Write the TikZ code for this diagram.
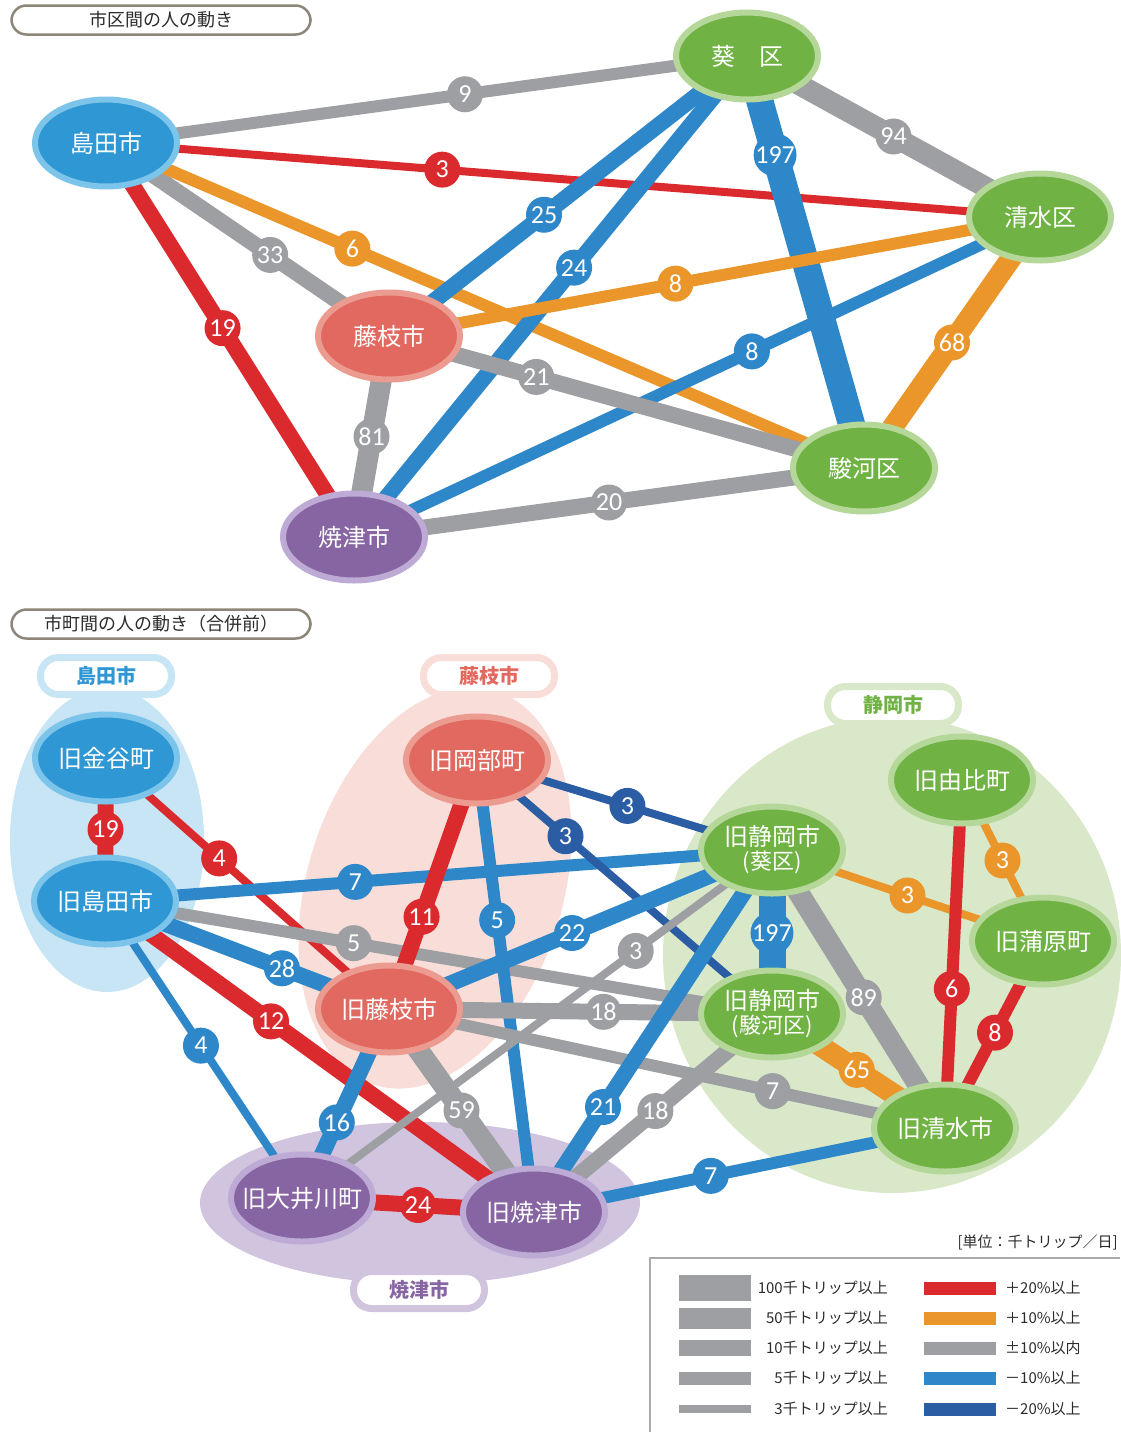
\documentclass[tikz,border=0pt]{standalone}
\usepackage{fontspec}
\setmainfont{Noto Sans CJK JP}
\newfontfamily\numfont{Carlito}
\usetikzlibrary{shapes.geometric, calc}

\definecolor{cred}{HTML}{DB2A2E}
\definecolor{corange}{HTML}{EA962B}
\definecolor{cgray}{HTML}{9D9FA2}
\definecolor{cblue}{HTML}{2E87C8}
\definecolor{cdblue}{HTML}{2A5DA4}
\definecolor{nblue}{HTML}{2F97D4}
\definecolor{nblueb}{HTML}{7CC4EA}
\definecolor{ngreen}{HTML}{70B344}
\definecolor{ngreenb}{HTML}{B5D89A}
\definecolor{nred}{HTML}{E16960}
\definecolor{nredb}{HTML}{EC9B91}
\definecolor{npurp}{HTML}{8765A2}
\definecolor{npurpb}{HTML}{BEABD5}
\definecolor{gblue}{HTML}{C7E5F5}
\definecolor{gpink}{HTML}{F8DDD8}
\definecolor{ggreen}{HTML}{D9E8C8}
\definecolor{gpurp}{HTML}{D0C4DF}
\definecolor{frame}{HTML}{8C857A}
\definecolor{legline}{HTML}{AAAAAA}
\definecolor{ink}{HTML}{2B2B2B}

\pgfdeclarelayer{groups}
\pgfdeclarelayer{links}
\pgfsetlayers{groups,links,main}

\tikzstyle{town} = [ellipse, minimum width=142pt, minimum height=87pt, inner sep=0pt, line width=6pt, text=white, align=center, font=\fontsize{24}{27}\selectfont]
\tikzstyle{shimadacity} = [town, fill=nblue, draw=nblueb]
\tikzstyle{fujiedacity} = [town, fill=nred, draw=nredb]
\tikzstyle{shizuokacity} = [town, fill=ngreen, draw=ngreenb]
\tikzstyle{yaizucity} = [town, fill=npurp, draw=npurpb]
\tikzstyle{titlebox} = [rectangle, rounded corners=15pt, draw=frame, line width=2.5pt, minimum width=299pt, minimum height=29pt, inner sep=0pt, text=ink, font=\fontsize{18}{18}\selectfont]
\tikzstyle{grouptag} = [rectangle, rounded corners=18pt, fill=white, line width=7pt, minimum width=131pt, minimum height=37pt, inner sep=0pt, font=\bfseries\fontsize{20}{20}\selectfont]
\tikzstyle{num} = [circle, minimum size=36pt, inner sep=0pt, text=white, font=\numfont\fontsize{26}{26}\selectfont]
\tikzstyle{link} = [line cap=butt]
\tikzstyle{w3} = [link, line width=8pt]
\tikzstyle{w5} = [link, line width=12pt]
\tikzstyle{w10} = [link, line width=16pt]
\tikzstyle{w50} = [link, line width=21pt]
\tikzstyle{w100} = [link, line width=27pt]
\tikzstyle{legtext} = [inner sep=0pt, text=ink, font=\fontsize{15}{15}\selectfont]

\begin{document}
\begin{tikzpicture}[x=1pt, y=-1pt]
\useasboundingbox (0,0) rectangle (1120,1432);

\node[titlebox] (title1) at (161,20) {市区間の人の動き};
\node[titlebox] (title2) at (161,624) {市町間の人の動き（合併前）};

% upper map: cities and wards
\node[shimadacity] (shimada) at (106,143) {島田市};
\node[shizuokacity] (aoi) at (747,56) {葵　区};
\node[shizuokacity] (shimizu) at (1040,217) {清水区};
\node[fujiedacity] (fujieda) at (389,336) {藤枝市};
\node[shizuokacity] (suruga) at (864,468) {駿河区};
\node[yaizucity] (yaizu) at (354,537) {焼津市};

\begin{pgfonlayer}{links}
\draw[w5, cgray] (shimada.center) -- (aoi.center);
\draw[w3, cred] (shimada.center) -- (shimizu.center);
\draw[w10, cgray] (shimada.center) -- (fujieda.center);
\draw[w5, corange] (shimada.center) -- (suruga.center);
\draw[w10, cred] (shimada.center) -- (yaizu.center);
\draw[w10, cblue] (aoi.center) -- (fujieda.center);
\draw[w10, cblue] (aoi.center) -- (yaizu.center);
\draw[w100, cblue] (aoi.center) -- (suruga.center);
\draw[w50, cgray] (aoi.center) -- (shimizu.center);
\draw[w5, corange] (fujieda.center) -- (shimizu.center);
\draw[w50, corange] (shimizu.center) -- (suruga.center);
\draw[w5, cblue] (shimizu.center) -- (yaizu.center);
\draw[w10, cgray] (fujieda.center) -- (suruga.center);
\draw[w50, cgray] (fujieda.center) -- (yaizu.center);
\draw[w10, cgray] (yaizu.center) -- (suruga.center);
\end{pgfonlayer}

\node[num, fill=cgray] (a1) at ($(shimada)!0.56!(aoi)$) {9};
\node[num, fill=cred] (a2) at ($(shimada)!0.36!(shimizu)$) {3};
\node[num, fill=cgray] (a3) at ($(shimada)!0.58!(fujieda)$) {33};
\node[num, fill=corange] (a4) at ($(shimada)!0.325!(suruga)$) {6};
\node[num, fill=cred] (a5) at ($(shimada)!0.47!(yaizu)$) {19};
\node[num, fill=cblue] (a6) at ($(aoi)!0.567!(fujieda)$) {25};
\node[num, fill=cblue] (a7) at ($(aoi)!0.44!(yaizu)$) {24};
\node[num, fill=cblue] (a8) at ($(aoi)!0.24!(suruga)$) {197};
\node[num, fill=cgray] (a9) at ($(aoi)!0.5!(shimizu)$) {94};
\node[num, fill=corange] (a10) at ($(fujieda)!0.44!(shimizu)$) {8};
\node[num, fill=corange] (a11) at ($(shimizu)!0.5!(suruga)$) {68};
\node[num, fill=cblue] (a12) at ($(shimizu)!0.42!(yaizu)$) {8};
\node[num, fill=cgray] (a13) at ($(fujieda)!0.31!(suruga)$) {21};
\node[num, fill=cgray] (a14) at ($(fujieda)!0.5!(yaizu)$) {81};
\node[num, fill=cgray] (a15) at ($(yaizu)!0.5!(suruga)$) {20};

% lower map: former towns before the merger
\begin{pgfonlayer}{groups}
\fill[gblue] (107,840) ellipse [x radius=97pt, y radius=152pt];
\fill[gpink, rotate around={-17:(435,888)}] (435,888) ellipse [x radius=128pt, y radius=206pt];
\fill[ggreen] (892,955) ellipse [x radius=229pt, y radius=238pt];
\fill[gpurp] (420,1203) ellipse [x radius=220pt, y radius=81pt];
\end{pgfonlayer}

\node[grouptag, draw=gblue, text=nblue] (tagshimada) at (106,676) {島田市};
\node[grouptag, draw=gpink, text=nred] (tagfujieda) at (489,676) {藤枝市};
\node[grouptag, draw=ggreen, text=ngreen] (tagshizuoka) at (893,705) {静岡市};
\node[grouptag, draw=gpurp, text=npurp] (tagyaizu) at (419,1290) {焼津市};

\node[shimadacity] (kanaya) at (106,758) {旧金谷町};
\node[shimadacity] (oshimada) at (105,901) {旧島田市};
\node[fujiedacity] (okabe) at (477,760) {旧岡部町};
\node[fujiedacity] (ofujieda) at (389,1009) {旧藤枝市};
\node[shizuokacity] (oaoi) at (772,850) {旧静岡市\\[-3pt]{\fontsize{22}{22}\selectfont(葵区)}};
\node[shizuokacity] (yui) at (962,780) {旧由比町};
\node[shizuokacity] (kanbara) at (1043,941) {旧蒲原町};
\node[shizuokacity] (osuruga) at (772,1014) {旧静岡市\\[-3pt]{\fontsize{22}{22}\selectfont(駿河区)}};
\node[shizuokacity] (oshimizu) at (945,1128) {旧清水市};
\node[yaizucity] (ooigawa) at (302,1198) {\makebox[96pt]{旧大井川町}};
\node[yaizucity] (oyaizu) at (534,1212) {旧焼津市};

\begin{pgfonlayer}{links}
\draw[w10, cred] (kanaya.center) -- (oshimada.center);
\draw[w3, cred] (kanaya.center) -- (ofujieda.center);
\draw[w5, cblue] (oshimada.center) -- (oaoi.center);
\draw[w5, cgray] (oshimada.center) -- (osuruga.center);
\draw[w10, cblue] (oshimada.center) -- (ofujieda.center);
\draw[w10, cred] (oshimada.center) -- (oyaizu.center);
\draw[w3, cblue] (oshimada.center) -- (ooigawa.center);
\draw[w10, cred] (okabe.center) -- (ofujieda.center);
\draw[w5, cblue] (okabe.center) -- (oyaizu.center);
\draw[w3, cdblue] (okabe.center) -- (oaoi.center);
\draw[w3, cdblue] (okabe.center) -- (osuruga.center);
\draw[w10, cblue] (ofujieda.center) -- (oaoi.center);
\draw[w10, cgray] (ofujieda.center) -- (osuruga.center);
\draw[w5, cgray] (ofujieda.center) -- (oshimizu.center);
\draw[w10, cblue] (ofujieda.center) -- (ooigawa.center);
\draw[w50, cgray] (ofujieda.center) -- (oyaizu.center);
\draw[w3, cgray] (oaoi.center) -- (ooigawa.center);
\draw[w10, cblue] (oaoi.center) -- (oyaizu.center);
\draw[w100, cblue] (oaoi.center) -- (osuruga.center);
\draw[w50, cgray] (oaoi.center) -- (oshimizu.center);
\draw[w3, corange] (oaoi.center) -- (kanbara.center);
\draw[w3, corange] (yui.center) -- (kanbara.center);
\draw[w5, cred] (yui.center) -- (oshimizu.center);
\draw[w5, cred] (kanbara.center) -- (oshimizu.center);
\draw[w50, corange] (osuruga.center) -- (oshimizu.center);
\draw[w10, cgray] (osuruga.center) -- (oyaizu.center);
\draw[w5, cblue] (oshimizu.center) -- (oyaizu.center);
\draw[w10, cred] (ooigawa.center) -- (oyaizu.center);
\end{pgfonlayer}

\node[num, fill=cred] (b1) at ($(kanaya)!0.5!(oshimada)$) {19};
\node[num, fill=cred] (b2) at ($(kanaya)!0.4!(ofujieda)$) {4};
\node[num, fill=cblue] (b3) at ($(oshimada)!0.375!(oaoi)$) {7};
\node[num, fill=cgray] (b4) at ($(oshimada)!0.373!(osuruga)$) {5};
\node[num, fill=cblue] (b5) at ($(oshimada)!0.623!(ofujieda)$) {28};
\node[num, fill=cred] (b6) at ($(oshimada)!0.387!(oyaizu)$) {12};
\node[num, fill=cblue] (b7) at ($(oshimada)!0.487!(ooigawa)$) {4};
\node[num, fill=cred] (b8) at ($(okabe)!0.63!(ofujieda)$) {11};
\node[num, fill=cblue] (b9) at ($(okabe)!0.354!(oyaizu)$) {5};
\node[num, fill=cdblue] (b10) at ($(okabe)!0.51!(oaoi)$) {3};
\node[num, fill=cdblue] (b11) at ($(okabe)!0.3!(osuruga)$) {3};
\node[num, fill=cblue] (b12) at ($(ofujieda)!0.478!(oaoi)$) {22};
\node[num, fill=cgray] (b13) at ($(ofujieda)!0.56!(osuruga)$) {18};
\node[num, fill=cgray] (b14) at ($(ofujieda)!0.69!(oshimizu)$) {7};
\node[num, fill=cblue] (b15) at ($(ofujieda)!0.6!(ooigawa)$) {16};
\node[num, fill=cgray] (b16) at ($(ofujieda)!0.5!(oyaizu)$) {59};
\node[num, fill=cgray] (b17) at ($(oaoi)!0.29!(ooigawa)$) {3};
\node[num, fill=cblue] (b18) at ($(oaoi)!0.71!(oyaizu)$) {21};
\node[num, fill=cblue] (b19) at ($(oaoi)!0.506!(osuruga)$) {197};
\node[num, fill=cgray] (b20) at ($(oaoi)!0.53!(oshimizu)$) {89};
\node[num, fill=corange] (b21) at ($(oaoi)!0.5!(kanbara)$) {3};
\node[num, fill=corange] (b22) at ($(yui)!0.5!(kanbara)$) {3};
\node[num, fill=cred] (b23) at ($(yui)!0.6!(oshimizu)$) {6};
\node[num, fill=cred] (b24) at ($(kanbara)!0.49!(oshimizu)$) {8};
\node[num, fill=corange] (b25) at ($(osuruga)!0.49!(oshimizu)$) {65};
\node[num, fill=cgray] (b26) at ($(osuruga)!0.49!(oyaizu)$) {18};
\node[num, fill=cblue] (b27) at ($(oshimizu)!0.57!(oyaizu)$) {7};
\node[num, fill=cred] (b28) at ($(ooigawa)!0.5!(oyaizu)$) {24};

% legend
\node[legtext, anchor=east] (unit) at (1118,1242) {[単位：千トリップ／日]};
\draw[legline, line width=1.5pt] (650,1432) -- (650,1258) -- (1120,1258);
\fill[cgray] (679,1275) rectangle (751,1301);
\fill[cgray] (679,1308) rectangle (751,1329);
\fill[cgray] (679,1340) rectangle (751,1356);
\fill[cgray] (679,1372) rectangle (751,1385);
\fill[cgray] (679,1405) rectangle (751,1413);
\node[legtext, anchor=east] (k100) at (888,1288) {100千トリップ以上};
\node[legtext, anchor=east] (k50) at (888,1318) {50千トリップ以上};
\node[legtext, anchor=east] (k10) at (888,1348) {10千トリップ以上};
\node[legtext, anchor=east] (k5) at (888,1378) {5千トリップ以上};
\node[legtext, anchor=east] (k3) at (888,1409) {3千トリップ以上};
\fill[cred] (924,1282) rectangle (996,1295);
\fill[corange] (924,1312) rectangle (996,1325);
\fill[cgray] (924,1342) rectangle (996,1355);
\fill[cblue] (924,1372) rectangle (996,1385);
\fill[cdblue] (924,1403) rectangle (996,1416);
\node[legtext, anchor=west] (p20) at (1005,1288) {＋20\%以上};
\node[legtext, anchor=west] (p10) at (1005,1318) {＋10\%以上};
\node[legtext, anchor=west] (pm10) at (1005,1348) {±10\%以内};
\node[legtext, anchor=west] (m10) at (1005,1378) {－10\%以上};
\node[legtext, anchor=west] (m20) at (1005,1409) {－20\%以上};

\end{tikzpicture}
\end{document}
